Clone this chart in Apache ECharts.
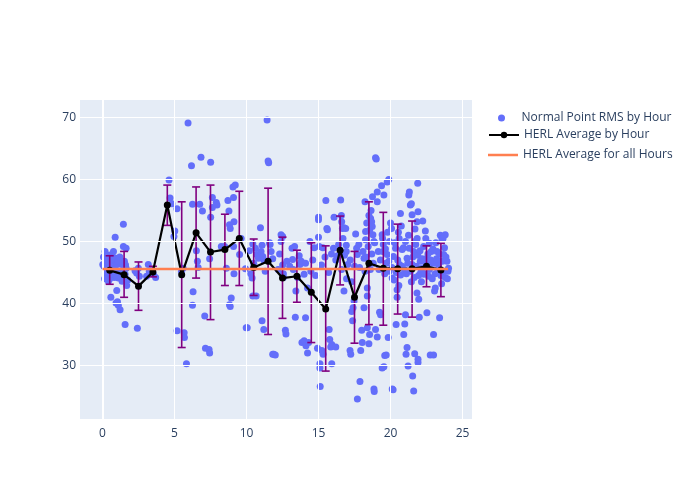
<!DOCTYPE html>
<html><head><meta charset="utf-8">
<script src="https://cdn.jsdelivr.net/npm/echarts@6/dist/echarts.min.js"></script>
<style>html,body{margin:0;padding:0;background:#fff}#c{width:700px;height:500px}</style>
</head><body><div id="c"></div>
<script>
// Individual normal point RMS by hour: [hour, rms]
const pointData = [
[0.07,47.5],[0.02,46.3],[0.23,44.4],[0.41,47.3],[0.65,47.9],[0.76,46.8],[0.53,45.7],[0.3,46.8],[0.71,45.2],[0.88,46.0],[0.48,43.9],[0.81,44.2],[0.99,46.3],[0.18,48.4],[0.88,50.7],[0.58,41.0],[0.99,42.1],[0.94,40.1],[1.1,39.7],[1.22,39.0],[1.04,40.3],[0.35,45.5],[0.67,44.7],[0.76,48.4],[0.94,47.3],[1.1,44.1],[0.41,43.6],
[0.1,46.0],[0.2,47.0],[0.3,45.0],[0.45,46.5],[0.6,44.8],[0.7,47.2],[0.85,45.3],[0.95,44.5],[0.5,47.8],[0.15,44.0],
[1.45,52.8],[1.45,49.2],[1.64,48.9],[1.57,36.6],[1.68,42.9],[1.34,46.3],[1.52,46.8],[1.41,44.4],[1.64,45.7],[1.22,45.2],[1.36,43.6],[1.57,44.7],
[1.1,46.8],[1.2,47.5],[1.3,44.2],[1.5,45.5],[1.75,43.8],[1.6,46.2],
[2.42,36.0],[2.37,44.9],[2.49,45.7],[2.56,44.4],[2.26,45.3],
[3.18,46.3],[3.25,45.2],[3.41,45.5],[3.69,44.2],[3.53,44.7],[3.06,44.4],
[4.62,59.9],[4.69,57.0],[4.82,56.1],[5.17,55.3],[5.02,51.7],[4.96,50.8],
[5.18,35.6],[5.67,35.3],[5.69,34.5],[5.83,30.3],[5.94,69.1],[5.48,45.2],[5.6,45.7],
[6.18,62.2],[6.25,56.0],[6.29,41.9],[6.25,39.7],[6.52,48.5],[6.59,46.8],[6.64,45.8],[6.75,56.0],[6.84,63.6],[6.94,54.9],
[7.1,38.0],[7.15,32.8],[7.4,32.6],[7.44,32.0],[7.51,62.8],[7.51,53.9],[7.44,47.2],[7.63,57.1],[7.63,55.5],[7.9,56.3],[7.95,55.9],
[8.25,49.2],[8.6,45.7],[8.71,56.6],[8.78,54.9],[8.82,52.7],[8.87,52.1],[8.82,39.8],[8.87,39.5],[8.94,40.9],[8.48,49.2],
[9.06,58.8],[9.22,59.1],[9.1,57.1],[9.13,53.2],[9.1,49.2],[9.13,44.8],[9.52,47.9],[9.63,50.5],[9.98,36.1],[10.05,36.1],[9.93,45.6],
[10.44,49.6],[10.39,44.1],[10.44,41.2],[10.67,41.2],[10.62,48.9],[10.71,47.9],[10.83,47.3],[10.97,52.2],[11.08,49.4],[11.01,48.4],[11.13,47.6],[11.08,37.2],[11.2,35.8],
[10.2,48.5],[10.5,46.5],[10.3,44.8],
[11.43,69.6],[11.5,63.0],[11.54,62.7],[11.64,49.5],[11.71,48.4],[11.82,47.2],[11.89,31.8],[12.0,31.7],[11.82,31.8],
[11.2,47.0],[11.3,45.2],[11.6,49.8],
[12.4,51.1],[12.51,50.8],[12.4,50.0],[12.51,46.2],[12.56,44.8],[12.7,35.7],[12.74,35.1],[12.56,44.2],
[12.2,45.5],[12.8,46.8],[12.3,48.0],
[13.16,48.9],[13.2,47.1],[13.34,49.2],[13.39,37.8],[13.43,42.0],[13.66,47.7],[13.71,46.3],[13.85,33.7],[14.0,34.0],[14.13,33.2],[14.1,37.7],[14.0,44.7],[14.24,32.0],
[13.0,46.0],[13.25,45.5],[13.55,44.2],[13.8,46.8],
[14.4,50.0],[14.47,45.2],[14.24,42.5],[14.31,33.7],[14.93,32.8],[15.0,53.9],[15.0,53.5],[15.0,50.7],[15.05,49.2],[15.1,30.3],[15.1,29.6],[15.12,26.6],[15.23,32.4],[15.32,31.8],
[14.6,47.0],[14.8,44.5],[14.1,46.5],[14.7,49.0],
[15.51,56.6],[15.58,52.1],[15.62,51.9],[15.74,35.8],[15.78,34.2],[15.92,33.4],[15.92,30.3],[15.85,33.0],[16.04,48.9],[16.08,53.9],[16.2,33.0],[16.31,47.7],
[15.3,49.0],[15.45,47.5],[15.7,45.0],[15.9,48.0],[15.2,46.2],
[16.54,56.7],[16.59,54.2],[16.61,53.2],[16.66,52.1],[16.77,42.0],[16.77,52.2],[16.89,52.1],[16.93,49.4],[16.93,48.4],[17.03,46.3],[17.19,32.4],[17.24,31.8],[17.31,38.7],[17.37,37.2],
[16.2,47.0],[16.4,49.5],[16.6,45.5],[16.8,47.8],[16.7,50.5],[16.95,44.0],
[17.4,39.3],[17.47,40.4],[17.58,51.2],[17.65,48.9],[17.7,47.9],[17.7,24.6],[17.88,27.4],[17.93,32.4],[18.0,35.7],[18.04,33.7],[18.09,48.4],[18.16,47.3],[18.23,45.2],[18.16,39.3],
[17.2,47.0],[17.5,46.0],[17.8,49.5],[17.85,45.8],[17.3,43.5],
[18.23,56.4],[18.27,51.6],[18.27,50.3],[18.39,42.5],[18.39,41.2],[18.39,36.1],[18.5,33.5],[18.55,35.0],[18.62,53.7],[18.69,53.2],[18.73,52.4],[18.78,51.1],[18.85,50.0],[18.85,26.2],[18.87,25.8],[18.96,63.5],[19.01,63.3],[19.08,56.4],[19.08,58.0],[18.96,35.8],[19.08,34.6],[19.15,48.4],
[18.3,47.5],[18.45,49.2],[18.6,45.5],[18.7,48.0],[18.8,46.5],[18.9,49.8],[18.55,51.8],[18.35,53.0],[18.65,55.0],[18.75,57.2],[18.5,54.2],
[19.24,38.6],[19.31,38.2],[19.38,59.0],[19.42,51.1],[19.47,48.4],[19.54,57.5],[19.42,29.6],[19.54,29.8],[19.6,31.6],[19.7,31.7],[19.77,59.6],[19.88,60.0],[19.84,34.5],[19.77,47.9],[19.88,46.8],[19.93,50.0],[20.0,53.0],[20.07,52.1],
[19.2,45.5],[19.3,47.0],[19.5,49.5],[19.6,44.8],[19.7,46.5],[19.9,45.2],[19.45,50.5],[19.8,51.5],[19.65,48.8],
[20.12,26.2],[20.18,26.1],[20.12,44.1],[20.35,48.9],[20.39,36.6],[20.46,41.0],[20.46,42.2],[20.58,42.9],[20.62,46.3],[20.69,54.5],[20.81,48.7],[20.92,35.0],[20.99,36.7],[21.04,38.2],[21.08,31.8],[21.15,32.9],[21.22,29.9],[21.27,57.5],[21.31,58.0],[21.04,50.0],[21.15,47.3],
[20.1,45.8],[20.2,47.6],[20.3,49.8],[20.4,45.0],[20.5,47.0],[20.6,50.5],[20.7,44.6],[20.8,46.0],[20.9,49.0],[20.95,45.5],[20.25,43.8],[20.55,51.5],[20.75,52.5],
[21.38,55.9],[21.45,56.1],[21.5,54.3],[21.54,28.3],[21.61,25.9],[21.68,31.9],[21.84,53.2],[21.91,54.8],[21.84,41.7],[21.96,40.7],[21.89,59.4],[21.91,31.0],[21.91,30.5],[22.0,37.8],[21.7,50.0],[21.61,48.4],[22.07,46.8],[22.19,45.7],[21.5,46.3],
[21.1,44.8],[21.2,46.5],[21.3,48.9],[21.4,45.2],[21.55,47.5],[21.65,44.2],[21.75,49.5],[21.8,46.0],[21.9,47.8],[21.95,44.5],[21.25,51.0],[21.45,43.5],[21.7,52.0],[21.85,50.5],
[22.24,53.3],[22.42,51.7],[22.53,38.5],[22.65,44.4],[22.7,49.7],[22.76,31.7],[22.88,46.5],[22.99,35.0],[22.99,31.7],[23.06,42.0],[23.11,42.5],[22.83,48.4],[22.53,47.3],[22.3,44.7],
[22.05,48.5],[22.1,45.0],[22.2,47.2],[22.3,49.2],[22.4,44.8],[22.5,46.2],[22.6,48.0],[22.7,45.5],[22.8,47.0],[22.9,44.0],[22.95,48.8],[22.15,43.5],[22.45,50.5],[22.35,46.8],
[23.41,37.7],[23.46,51.0],[23.57,50.5],[23.8,51.1],[23.92,46.8],[23.99,45.2],[23.8,44.2],[23.23,48.4],[23.34,46.3],[23.69,47.9],[24.03,45.7],
[23.05,46.5],[23.1,44.8],[23.2,47.2],[23.3,45.5],[23.4,48.0],[23.5,44.5],[23.6,46.8],[23.7,45.2],[23.75,49.0],[23.85,47.5],[23.95,44.0],[23.15,49.8],[23.55,43.2],[23.65,50.5]
];

const hours = [0.5,1.5,2.5,3.5,4.5,5.5,6.5,7.5,8.5,9.5,10.5,11.5,12.5,13.5,14.5,15.5,16.5,17.5,18.5,19.5,20.5,21.5,22.5,23.5];
const hourAvg = [45.35,44.65,42.8,45.1,55.9,44.65,51.4,48.3,48.7,50.5,45.8,46.8,44.1,44.4,41.8,39.1,48.6,41.0,46.5,45.7,45.6,45.6,46.0,45.4];
const errTop = [47.7,48.4,46.7,46.0,59.1,56.4,58.8,59.1,54.4,58.1,50.4,58.6,50.7,48.6,49.8,49.3,54.1,48.4,56.4,54.7,52.8,53.3,49.3,49.7];
const errBottom = [43.1,41.0,38.9,44.3,52.6,32.9,44.1,37.4,42.9,42.9,41.3,35.0,37.6,40.2,33.7,29.1,43.0,33.6,36.6,36.5,38.3,37.8,42.7,41.1];
const overallAvg = 45.55;
const overallRange = [0, 24];
const xTicks = [0,5,10,15,20,25];
const yTicks = [30,40,50,60,70];

// axis extents chosen so gridlines fall on pixel centres (crisp 1px lines)
const X_MIN = -1.5625, X_MAX = -1.5625 + 392 / 14.4;
const Y_MAX = 70 + 17.5 / 6.2, Y_MIN = Y_MAX - 319 / 6.2;
const FONT = '"Open Sans", "DejaVu Sans", sans-serif';
const TXT = '#2a3f5f';

const chart = echarts.init(document.getElementById('c'), null, {renderer: 'canvas'});

const tickFmt = (ticks) => (v) => ticks.some(t => Math.abs(t - v) < 1e-6) ? String(Math.round(v)) : '';

const gridLineData = xTicks.map(v => ({xAxis: v, lineStyle: {color: '#ffffff', width: v === 0 ? 2 : 1, type: 'solid'}}))
  .concat(yTicks.map(v => ({yAxis: v, lineStyle: {color: '#ffffff', width: 1, type: 'solid'}})));

chart.setOption({
  animation: false,
  backgroundColor: '#ffffff',
  textStyle: {fontFamily: FONT},
  grid: {left: 80, right: 228, top: 100, bottom: 81, show: false},
  xAxis: {
    type: 'value', min: X_MIN, max: X_MAX, splitNumber: 5,
    axisLine: {show: false}, axisTick: {show: false}, splitLine: {show: false},
    axisLabel: {formatter: tickFmt(xTicks), color: TXT, fontSize: 12, fontFamily: FONT, margin: 9, showMinLabel: false, showMaxLabel: false}
  },
  yAxis: {
    type: 'value', min: Y_MIN, max: Y_MAX, splitNumber: 5,
    axisLine: {show: false}, axisTick: {show: false}, splitLine: {show: false},
    axisLabel: {formatter: tickFmt(yTicks), color: TXT, fontSize: 12, fontFamily: FONT, margin: 4, showMinLabel: false, showMaxLabel: false}
  },
  legend: [
    {
      left: 493, top: 107, itemWidth: 30, itemHeight: 7,
      textStyle: {color: TXT, fontSize: 12, fontFamily: FONT},
      data: [{name: 'Normal Point RMS by Hour', icon: 'circle'}]
    },
    {
      left: 483, top: 124, itemWidth: 30, itemHeight: 8,
      textStyle: {color: TXT, fontSize: 12, fontFamily: FONT},
      data: [{name: 'HERL Average by Hour'}]
    },
    {
      left: 483, top: 143, itemWidth: 30, itemHeight: 14,
      textStyle: {color: TXT, fontSize: 12, fontFamily: FONT},
      data: [{name: 'HERL Average for all Hours', icon: 'path://M0,0h30v0.001h-30zM0,5.8h30v2.4h-30zM0,14h30v0.001h-30z'}]
    }
  ],
  series: [
    {
      name: '_bg', type: 'line', data: [[0, 30]], symbol: 'none', silent: true, z: 0,
      lineStyle: {opacity: 0},
      markArea: {silent: true, animation: false, itemStyle: {color: '#e5ecf6'},
        data: [[{xAxis: X_MIN, yAxis: Y_MIN}, {xAxis: X_MAX, yAxis: Y_MAX}]]},
      markLine: {silent: true, symbol: 'none', label: {show: false}, animation: false, data: gridLineData}
    },
    {
      name: 'Normal Point RMS by Hour', type: 'scatter', z: 2,
      data: pointData, symbol: 'circle', symbolSize: 7,
      itemStyle: {color: '#636efa', opacity: 1}
    },
    {
      name: 'errorbars', type: 'custom', z: 3,
      data: hours.map((h, i) => [h, errBottom[i], errTop[i]]),
      renderItem: function (params, api) {
        const x = api.value(0);
        const lo = api.coord([x, api.value(1)]);
        const hi = api.coord([x, api.value(2)]);
        const w = 4;
        const st = {stroke: '#800080', lineWidth: 1.6, fill: null};
        return {type: 'group', children: [
          {type: 'line', shape: {x1: lo[0], y1: lo[1], x2: hi[0], y2: hi[1]}, style: st},
          {type: 'line', shape: {x1: lo[0]-w, y1: lo[1], x2: lo[0]+w, y2: lo[1]}, style: st},
          {type: 'line', shape: {x1: hi[0]-w, y1: hi[1], x2: hi[0]+w, y2: hi[1]}, style: st}
        ]};
      }
    },
    {
      name: 'HERL Average by Hour', type: 'line', z: 4,
      data: hours.map((h, i) => [h, hourAvg[i]]),
      symbol: 'circle', symbolSize: 7,
      lineStyle: {color: '#000', width: 2.2}, itemStyle: {color: '#000'}
    },
    {
      name: 'HERL Average for all Hours', type: 'line', z: 5,
      data: overallRange.map(h => [h, overallAvg]),
      symbol: 'none', lineStyle: {color: '#ff7f50', width: 2.5}, itemStyle: {color: '#ff7f50'}
    }
  ]
});
</script>
</body></html>
